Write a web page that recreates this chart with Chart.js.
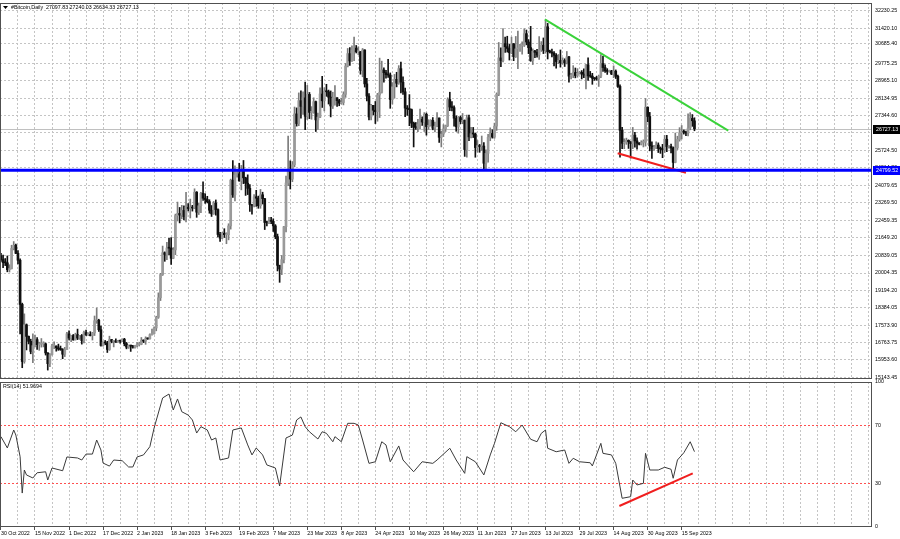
<!DOCTYPE html>
<html><head><meta charset="utf-8">
<script src="https://cdn.jsdelivr.net/npm/chart.js@4.4.0/dist/chart.umd.min.js"></script>
<style>
html,body{margin:0;padding:0;background:#fff;}
#wrap{position:relative;width:900px;height:539px;overflow:hidden;background:#fff;}
#c1{position:absolute;left:0;top:0;}
#c2{position:absolute;left:0;top:371px;}
</style></head><body>
<div id="wrap"><canvas id="c1" width="900" height="381"></canvas><canvas id="c2" width="900" height="168"></canvas></div>
<script>
// ---------------- DATA (day index 0 = 30 Oct 2022, one bar per day) ----------------
const symbolName = '#Bitcoin,Daily';
const opens = [
20810,20630,20490,20480,20160,20210,21150,21300,20920,20600,
18540,15880,17590,17050,16820,16350,16620,16900,16660,16690,
16700,16700,16280,15780,16200,16600,16600,16520,16460,16440,
16220,16440,17170,16970,17090,16890,17130,16970,17090,16850,
17230,17130,17130,17090,17210,17780,17800,17360,16630,16780,
16740,16440,16900,16820,16830,16780,16840,16830,16920,16710,
16550,16630,16600,16540,16620,16670,16680,16860,16830,16950,
16940,17130,17180,17440,17940,18850,19930,20950,20870,21170,
21160,20690,21080,22680,22780,22710,22920,22630,23060,23010,
23080,23030,23770,22840,23140,23720,23490,23430,23330,22930,
22760,23260,22960,21800,21630,21860,21790,21790,22200,24330,
23650,24570,24630,24300,24840,24440,24190,23950,23200,23150,
23560,23490,23140,23650,23470,22360,22350,22430,22410,22200,
21700,20360,20190,20630,22160,24200,24750,24380,25050,27420,
26970,28040,27770,28170,27310,28330,27490,27490,27990,27140,
27270,28350,28030,28480,28450,28200,27790,28170,28170,28040,
27920,27950,28330,29650,30230,29890,30400,30490,30320,30320,
29450,30400,28820,28250,27280,27820,27590,27520,28300,28420,
29470,29340,29250,29230,28090,28680,29030,28850,29530,28900,
28450,27690,27650,27620,26990,26800,26780,26930,27170,27040,
27400,26830,26890,27120,26750,26850,27230,26330,26480,26720,
26870,28090,27740,27710,27220,26820,27250,27070,27120,25760,
27240,26350,26500,26480,25850,25940,25900,25920,25120,25580,
26330,26510,26340,26850,28330,30030,29910,30700,30550,30470,
30270,30690,30090,30450,30480,30590,30620,31160,30770,30510,
29900,30350,30290,30170,30410,30620,30390,31480,30320,30300,
30250,30150,29860,29910,29800,29910,29800,30080,29180,29230,
29350,29210,29320,29360,29280,29230,29710,29190,29180,29080,
29060,29050,29180,29770,29580,29430,29400,29420,29280,29410,
29170,28700,26660,26050,26100,26190,26120,26040,26430,26160,
26060,26010,26090,26100,27730,27300,25930,25800,25870,25970,
25810,25780,25750,26240,25900,25900,25830,25160,25840,26230,
26540,26600,26570,26530,26760,27210,27097.83];
const highs = [
20920,20840,20680,20800,20390,21300,21470,21350,21050,20670,
18600,18100,17630,17070,16920,17170,17110,17000,16780,16950,
16800,16740,16290,16250,16680,16800,16610,16690,16600,16480,
16540,17240,17310,17100,17140,17200,17390,17100,17140,17300,
17350,17220,17270,17240,18000,18370,17850,17530,16800,16860,
16820,17060,16910,16860,16940,16870,16860,16940,16960,16770,
16650,16640,16630,16630,16760,16780,17000,16890,17030,16970,
17170,17390,17490,17990,19080,19990,21260,20990,21440,21620,
21650,21190,22750,23310,23060,23160,23140,23770,23240,23450,
23160,23930,23800,23270,23760,24250,23700,23580,23420,23150,
23340,23410,23000,21900,21900,22070,21880,22300,24380,25250,
25000,24800,25120,25020,25250,24470,24580,24130,23210,23660,
23860,23590,23900,23770,23480,22420,22600,22600,22530,22260,
21820,20370,20820,22180,24520,26390,25230,25200,27740,27700,
28400,28500,28450,28900,28750,28420,27760,28170,28020,27460,
28640,29170,28640,28800,28530,28490,28430,28740,28180,28100,
28160,28450,29770,30470,30510,30590,31000,30610,30550,30330,
30470,30410,29080,28370,27870,27820,28000,28380,30020,29880,
29570,29450,29960,29330,28880,29260,29360,29670,29840,29150,
28620,27810,28320,27650,27040,27020,27170,27640,27280,27480,
27460,27150,27150,27250,27040,27480,27230,26620,26920,26900,
28170,28430,28000,27800,27330,27300,27320,27440,27140,27360,
27360,26800,26790,26530,26180,26000,26390,26080,25750,26470,
26770,26680,26990,28400,30750,30500,31400,31000,31040,30660,
31000,30700,31030,31280,30660,30780,31390,31330,30880,31500,
30450,30380,30430,31020,30790,30960,31800,31640,30390,30440,
30330,30230,30190,30400,30040,29990,30330,30100,29310,29670,
29560,29530,29400,29440,29520,29730,30030,29400,29310,29110,
29170,29230,30180,30100,29710,29530,29460,29450,29660,29470,
29230,28780,26800,26260,26290,26210,26130,26790,26560,26300,
26080,26170,26210,28140,27750,27490,26120,25960,26120,26070,
25880,26000,26420,26420,25940,26010,25880,26530,26380,26780,
26880,26670,26620,27420,27480,27390,27240.03];
const lows = [
20550,20250,20350,20060,20050,20190,21080,20900,20430,17170,
15590,15800,16420,16700,16240,15820,16560,16440,16400,16550,
16560,16180,15480,15640,16170,16480,16360,16400,16400,16010,
16110,16440,16880,16800,16870,16880,16900,16910,16690,16750,
17080,17090,17070,16880,17090,17660,17280,16590,16590,16660,
16300,16400,16750,16560,16770,16780,16730,16800,16610,16470,
16490,16350,16500,16500,16560,16600,16660,16760,16680,16910,
16920,17110,17150,17310,17890,18720,19890,20550,20630,20860,
20410,20670,20860,22430,22340,22530,22480,22390,22900,22570,
22890,23000,22600,22730,22820,23390,23250,23270,22790,22640,
22740,22700,21690,21480,21600,21660,21370,21550,22050,23530,
23370,24470,24280,23880,24170,23620,23660,22870,22750,23080,
23110,23020,23020,23220,22030,22200,22300,22300,21940,21600,
20100,19570,19930,20480,21920,24080,23920,24260,24950,26850,
26870,27220,27400,26680,27160,27200,27170,27450,26600,26700,
27250,27720,27560,28240,27880,27280,27670,27830,27770,27800,
27880,27840,28190,29610,29680,29870,29900,30260,30180,29270,
29150,28670,28030,27140,27140,27380,26970,27080,27250,28390,
28900,29080,29120,27680,27880,28150,28680,28800,28400,28330,
27290,27350,26870,26780,25880,26700,26590,26730,26880,26600,
26430,26700,26850,26680,26580,26830,26090,25880,26360,26600,
26830,27570,27560,26850,26610,26520,26960,26960,25440,25400,
26170,26300,26320,25400,25640,25630,25720,24850,24800,25170,
26170,26290,26280,26650,28270,29620,29840,30280,30300,29930,
30230,29900,30050,29530,30330,30200,30560,30640,30230,29870,
29720,30040,30060,29960,30330,30230,30250,29980,30260,30080,
29660,29550,29760,29600,29740,29630,29750,28900,29050,29110,
29100,29130,29270,29050,29110,28590,28980,29120,28800,28980,
28990,28700,29110,29400,29350,29260,29360,29250,29110,29070,
28660,25400,25800,25800,26000,25810,25360,25800,25870,25780,
25970,25970,25880,25920,27050,25700,25340,25720,25800,25620,
25580,25380,25620,25660,25820,25600,24900,25140,25760,26150,
26250,26480,26400,26390,26680,26840,26634.33];
const closes = [
20630,20490,20480,20160,20210,21150,21300,20920,20600,18540,
15880,17590,17050,16820,16350,16620,16900,16660,16690,16700,
16700,16280,15780,16200,16600,16600,16520,16460,16440,16220,
16440,17170,16970,17090,16890,17130,16970,17090,16850,17230,
17130,17130,17090,17210,17780,17800,17360,16630,16780,16740,
16440,16900,16820,16830,16780,16840,16830,16920,16710,16550,
16630,16600,16540,16620,16670,16680,16860,16830,16950,16940,
17130,17180,17440,17940,18850,19930,20950,20870,21170,21160,
20690,21080,22680,22780,22710,22920,22630,23060,23010,23080,
23030,23770,22840,23140,23720,23490,23430,23330,22930,22760,
23260,22960,21800,21630,21860,21790,21790,22200,24330,23650,
24570,24630,24300,24840,24440,24190,23950,23200,23150,23560,
23490,23140,23650,23470,22360,22350,22430,22410,22200,21700,
20360,20190,20630,22160,24200,24750,24380,25050,27420,26970,
28040,27770,28170,27310,28330,27490,27490,27990,27140,27270,
28350,28030,28480,28450,28200,27790,28170,28170,28040,27920,
27950,28330,29650,30230,29890,30400,30490,30320,30320,29450,
30400,28820,28250,27280,27820,27590,27520,28300,28420,29470,
29340,29250,29230,28090,28680,29030,28850,29530,28900,28450,
27690,27650,27620,26990,26800,26780,26930,27170,27040,27400,
26830,26890,27120,26750,26850,27230,26330,26480,26720,26870,
28090,27740,27710,27220,26820,27250,27070,27120,25760,27240,
26350,26500,26480,25850,25940,25900,25920,25120,25580,26330,
26510,26340,26850,28330,30030,29910,30700,30550,30470,30270,
30690,30090,30450,30480,30590,30620,31160,30770,30510,29900,
30350,30290,30170,30410,30620,30390,31480,30320,30300,30250,
30150,29860,29910,29800,29910,29800,30080,29180,29230,29350,
29210,29320,29360,29280,29230,29710,29190,29180,29080,29060,
29050,29180,29770,29580,29430,29400,29420,29280,29410,29170,
28700,26660,26050,26100,26190,26120,26040,26430,26160,26060,
26010,26090,26100,27730,27300,25930,25800,25870,25970,25810,
25780,25750,26240,25900,25900,25830,25160,25840,26230,26540,
26600,26570,26530,26760,27210,27100,26727.13];

// RSI(14) readings (day index, value)
const rsiDays = [0,3,6,7,9,10,11,12,15,17,21,22,24,29,31,36,38,40,43,45,47,48,51,53,57,60,62,64,67,70,
72,76,79,81,83,85,88,90,92,94,97,99,101,103,107,109,113,116,118,120,123,125,129,131,134,137,139,141,143,145,
149,151,153,156,157,160,163,166,168,170,173,176,179,181,183,187,189,194,198,203,205,211,214,218,219,223,227,230,232,235,
239,242,245,249,252,254,256,257,261,265,267,269,272,277,278,282,283,287,289,292,296,297,299,302,303,305,309,312,315,316,
318,321,324,326];
const rsiValues = [62.3,54.5,66.9,63.4,48.5,23.4,39.3,35.9,33.8,37.4,38.1,32.4,40.7,38.8,48.3,47.6,46.2,50.3,50.3,60.0,53.1,44.1,42.0,46.2,45.7,41.4,41.4,48.3,49.7,55.4,
68.3,89.0,91.7,80.7,88.3,79.5,77.2,73.8,64.8,69.2,66.9,60.0,61.4,46.2,47.6,66.9,68.3,56.6,49.7,54.5,49.7,42.8,40.7,28.3,61.4,63.4,73.8,75.9,69.2,65.7,
60.7,65.7,64.6,58.8,62.3,58.8,71.5,71.5,70.3,60.0,43.9,45.0,58.8,56.6,45.0,55.9,46.2,38.1,45.0,43.9,46.2,54.3,46.2,37.0,48.5,45.0,35.9,49.7,57.7,71.9,
69.2,65.7,70.3,60.5,58.8,64.6,66.9,54.3,51.9,53.1,43.9,47.4,45.0,44.3,42.1,57.7,50.8,49.7,43.9,19.8,20.9,32.4,29.0,30.1,50.8,39.3,39.3,41.2,39.8,33.6,
46.2,51.2,58.8,51.9694];
const rsiLevels = [70, 30];

// axis labels
const dateTickDays = [0,16,32,48,64,80,96,112,128,144,160,176,192,208,224,240,256,272,288,304,320];
const dateTickLabels = ['30 Oct 2022','15 Nov 2022','1 Dec 2022','17 Dec 2022','2 Jan 2023','18 Jan 2023','3 Feb 2023','19 Feb 2023','7 Mar 2023','23 Mar 2023','8 Apr 2023','24 Apr 2023','10 May 2023','26 May 2023','11 Jun 2023','27 Jun 2023','13 Jul 2023','29 Jul 2023','14 Aug 2023','30 Aug 2023','15 Sep 2023'];
const priceTicks = [32230.25,31420.10,30685.40,29775.25,28965.10,28134.95,27344.60,26534.45,25724.50,24914.80,24079.65,23269.50,22459.35,21649.20,20839.05,20004.35,19194.20,18384.05,17573.90,16763.75,15953.60,15143.45];
const rsiTicks = [0,30,70,100];

// drawn objects (in data units)
const supportLevel = 24799.52;
const greenTrendDays = [255.7, 341.9], greenTrendPrices = [31829, 26637];
const redTrendDays = [289.9, 322.0], redTrendPrices = [25584, 24679];
const rsiTrendDays = [290.7, 325.2], rsiTrendValues = [14.5, 37.0];

// ---------------- RENDERING ----------------
const X_MIN = -0.45, X_MAX = 409.46;
const P_MIN = 15064.2, P_MAX = 32589.1;
const FONT = "'Liberation Sans', Arial, sans-serif";
const FS = 5.3;
Chart.defaults.font.family = FONT;
Chart.defaults.font.size = FS;
Chart.defaults.color = '#000';

const last = closes.length - 1;
const lastPrice = closes[last];
const gridDays = [];
for (let d = 0; d <= X_MAX; d += 8) gridDays.push(d);
const labelOf = {};
dateTickDays.forEach((d, i) => labelOf[d] = dateTickLabels[i]);

const up = i => closes[i] >= opens[i];
const wickData = closes.map((c, i) => ({x: i, y: [lows[i], highs[i]]}));
const bodyData = closes.map((c, i) => ({x: i, y: [opens[i], c]}));
const GRID = '#c4c4c4';
const FRAME = '#505050';

function drawFrame(chart) {
  const {ctx, chartArea: a} = chart;
  ctx.save();
  ctx.strokeStyle = FRAME; ctx.lineWidth = 1;
  ctx.strokeRect(Math.round(a.left) + 0.5, Math.round(a.top) + 0.5, Math.round(a.right - a.left) - 1, Math.round(a.bottom - a.top) - 1);
  ctx.restore();
}
function priceBox(chart, value, bg) {
  const {ctx, chartArea: a, scales: {y}} = chart;
  const py = Math.round(y.getPixelForValue(value));
  ctx.save();
  ctx.fillStyle = bg;
  ctx.fillRect(a.right + 1, py - 4, 27, 9);
  ctx.fillStyle = '#fff';
  ctx.font = FS + 'px ' + FONT;
  ctx.textBaseline = 'middle';
  ctx.fillText(value.toFixed(2), a.right + 4, py + 0.5);
  ctx.restore();
}

const overlay1 = {
  id: 'overlay1',
  beforeDatasetsDraw(chart) {
    const {ctx, chartArea: a, scales: {y}} = chart;
    const py = Math.round(y.getPixelForValue(lastPrice)) + 0.5;
    ctx.save();
    ctx.strokeStyle = '#c0c0c0'; ctx.lineWidth = 1;
    ctx.beginPath(); ctx.moveTo(a.left, py); ctx.lineTo(a.right, py); ctx.stroke();
    ctx.restore();
  },
  afterDatasetsDraw(chart) {
    const {ctx, chartArea: a, scales: {y}} = chart;
    const py = y.getPixelForValue(supportLevel);
    ctx.save();
    ctx.strokeStyle = '#0000ff'; ctx.lineWidth = 3;
    ctx.beginPath(); ctx.moveTo(a.left, py); ctx.lineTo(a.right, py); ctx.stroke();
    ctx.restore();
  },
  afterDraw(chart) {
    const {ctx, chartArea: a} = chart;
    drawFrame(chart);
    priceBox(chart, lastPrice, '#000');
    priceBox(chart, supportLevel, '#0000ff');
    ctx.save();
    ctx.fillStyle = '#000';
    ctx.beginPath(); ctx.moveTo(a.left + 3, a.top + 3); ctx.lineTo(a.left + 8, a.top + 3); ctx.lineTo(a.left + 5.5, a.top + 6); ctx.closePath(); ctx.fill();
    ctx.font = FS + 'px ' + FONT;
    ctx.textBaseline = 'middle';
    ctx.fillText(symbolName + '  ' + [opens[last], highs[last], lows[last], closes[last]].map(v => v.toFixed(2)).join(' '), a.left + 11, a.top + 4.5);
    ctx.restore();
  }
};

const overlay2 = {
  id: 'overlay2',
  afterDraw(chart) {
    const {ctx, chartArea: a} = chart;
    drawFrame(chart);
    ctx.save();
    ctx.fillStyle = '#000';
    ctx.font = FS + 'px ' + FONT;
    ctx.textBaseline = 'middle';
    ctx.fillText('RSI(14) ' + rsiValues[rsiValues.length - 1].toFixed(4), a.left + 3, a.top + 4.5);
    ctx.restore();
  }
};

const xCommon = {
  type: 'linear', min: X_MIN, max: X_MAX, offset: false,
  afterBuildTicks: s => { s.ticks = gridDays.map(v => ({value: v})); },
};

new Chart(document.getElementById('c1'), {
  type: 'bar',
  data: {
    datasets: [
      {type: 'line', data: greenTrendDays.map((d, i) => ({x: d, y: greenTrendPrices[i]})), borderColor: '#3ad23a', borderWidth: 2, pointRadius: 0, order: 0},
      {type: 'line', data: redTrendDays.map((d, i) => ({x: d, y: redTrendPrices[i]})), borderColor: '#f01e1e', borderWidth: 2, pointRadius: 0, order: 0},
      {data: wickData, backgroundColor: c => up(c.dataIndex) ? '#7c7c7c' : '#101010', barThickness: 1, grouped: false, borderWidth: 0, order: 3},
      {data: bodyData, backgroundColor: c => up(c.dataIndex) ? '#9a9a9a' : '#101010', barThickness: 2, minBarLength: 1, grouped: false, borderWidth: 0, order: 2}
    ]
  },
  options: {
    responsive: false, animation: false, devicePixelRatio: 1,
    layout: {padding: {top: 3, bottom: 2, left: 0, right: 0}},
    plugins: {legend: {display: false}, tooltip: {enabled: false}},
    scales: {
      x: Object.assign({}, xCommon, {
        grid: {color: GRID, drawTicks: false, offset: false},
        border: {display: false, dash: [2, 2]},
        ticks: {display: false},
        afterFit: s => { s.height = 0; s.paddingLeft = 0; s.paddingRight = 0; }
      }),
      y: {
        type: 'linear', position: 'right', min: P_MIN, max: P_MAX, beginAtZero: false,
        grid: {color: GRID, drawTicks: false},
        border: {display: false, dash: [2, 2]},
        ticks: {padding: 3, callback: v => v.toFixed(2)},
        afterBuildTicks: s => { s.ticks = priceTicks.map(v => ({value: v})); },
        afterFit: s => { s.width = 28; s.paddingTop = 0; s.paddingBottom = 0; }
      }
    }
  },
  plugins: [overlay1]
});

new Chart(document.getElementById('c2'), {
  type: 'line',
  data: {
    datasets: [
      {data: rsiTrendDays.map((d, i) => ({x: d, y: rsiTrendValues[i]})), borderColor: '#f01e1e', borderWidth: 2, pointRadius: 0},
      {data: rsiDays.map((d, i) => ({x: d, y: rsiValues[i]})), borderColor: '#3a3a3a', borderWidth: 1, pointRadius: 0, tension: 0}
    ]
  },
  options: {
    responsive: false, animation: false, devicePixelRatio: 1,
    layout: {padding: {top: 11, bottom: 0, left: 0, right: 0}},
    plugins: {legend: {display: false}, tooltip: {enabled: false}},
    scales: {
      x: Object.assign({}, xCommon, {
        grid: {color: GRID, drawTicks: true, tickLength: 3, offset: false,
          tickColor: c => (c.tick && labelOf[c.tick.value] !== undefined) ? FRAME : 'rgba(0,0,0,0)'},
        border: {display: false, dash: [2, 2]},
        ticks: {padding: 0, align: 'start', autoSkip: false, maxRotation: 0, minRotation: 0,
          callback: v => labelOf[v] !== undefined ? labelOf[v] : ''},
        afterFit: s => { s.height = 12; s.paddingLeft = 0; s.paddingRight = 0; }
      }),
      y: {
        type: 'linear', position: 'right', min: 0, max: 100,
        grid: {drawTicks: false, color: c => (c.tick && rsiLevels.includes(c.tick.value)) ? '#ff5050' : 'rgba(0,0,0,0)'},
        border: {display: false, dash: [2, 2]},
        ticks: {padding: 3, callback: v => String(v)},
        afterBuildTicks: s => { s.ticks = rsiTicks.map(v => ({value: v})); },
        afterFit: s => { s.width = 28; s.paddingTop = 0; s.paddingBottom = 0; }
      }
    }
  },
  plugins: [overlay2]
});
</script>
</body></html>
